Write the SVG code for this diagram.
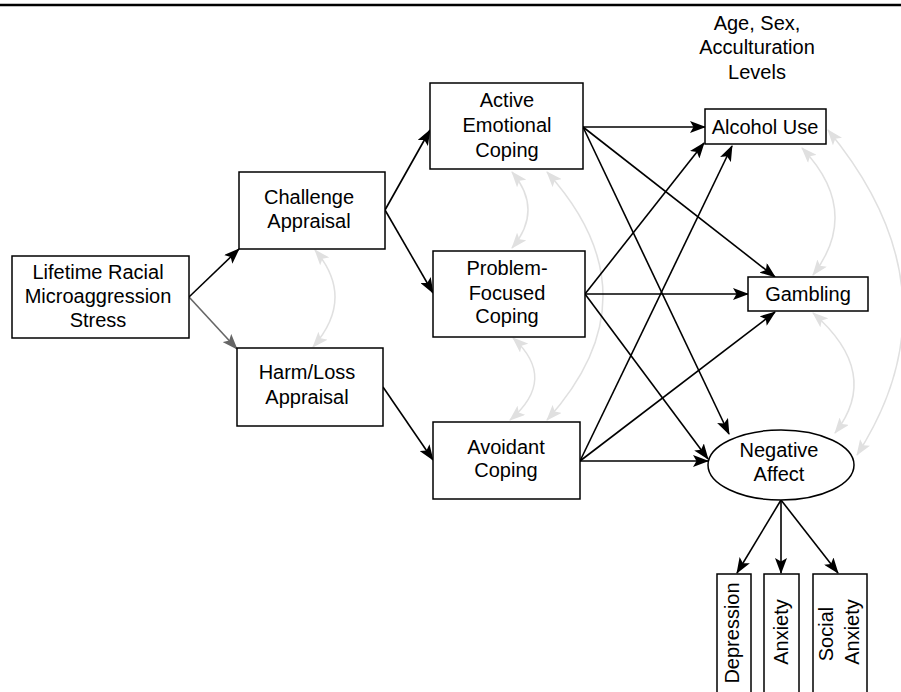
<svg xmlns="http://www.w3.org/2000/svg" width="901" height="692" viewBox="0 0 901 692">
  <style>
    .box { fill: #fff; stroke: #000; stroke-width: 1.5; }
    .lbl { font-family: "Liberation Sans", Arial, sans-serif; font-size: 20px; fill: #000; text-anchor: middle; }
    .path { fill: none; stroke: #000; stroke-width: 1.6; marker-end: url(#ah); }
    .path-grey { fill: none; stroke: #666; stroke-width: 1.6; marker-end: url(#ahg); }
    .cov { fill: none; stroke: #e0e0e0; stroke-width: 1.5; marker-start: url(#ahl); marker-end: url(#ahl); }
  </style>
  <defs>
    <marker id="ah" viewBox="0 0 16 12" refX="15" refY="6" markerWidth="16" markerHeight="12" markerUnits="userSpaceOnUse" orient="auto">
      <path d="M0,0 L16,6 L0,12 L3.5,6 z" fill="#000"/>
    </marker>
    <marker id="ahg" viewBox="0 0 16 12" refX="15" refY="6" markerWidth="16" markerHeight="12" markerUnits="userSpaceOnUse" orient="auto">
      <path d="M0,0 L16,6 L0,12 L3.5,6 z" fill="#666"/>
    </marker>
    <marker id="ahl" viewBox="0 0 16 12" refX="15" refY="6" markerWidth="16" markerHeight="12" markerUnits="userSpaceOnUse" orient="auto-start-reverse">
      <path d="M0,0 L16,6 L0,12 L3.5,6 z" fill="#e0e0e0"/>
    </marker>
  </defs>

  <rect width="901" height="692" fill="#fff"/>
  <line x1="0" y1="5" x2="901" y2="5" stroke="#000" stroke-width="2.4"/>

  <!-- covariances (bidirectional curves) -->
  <g id="covariances">
    <path class="cov" d="M315,250 Q356,298 313,347"/>
    <path class="cov" d="M512,172 Q544,210 512,248"/>
    <path class="cov" d="M513,338 Q558,379 510,420"/>
    <path class="cov" d="M547,172 Q659,296 547,420"/>
    <path class="cov" d="M802,148 Q862,211 813,275"/>
    <path class="cov" d="M813,313 Q882,373 835,433"/>
    <path class="cov" d="M828,130 Q962,292 857,455"/>
  </g>

  <!-- directed paths -->
  <g id="connectors">
    <path class="path" d="M189,297 L239,249"/>
    <path class="path-grey" d="M189,297 L237,349"/>
    <path class="path" d="M385,210 L430,130"/>
    <path class="path" d="M385,210 L433,293"/>
    <path class="path" d="M383,387 L433,460"/>
    <path class="path" d="M583,127 L705,127"/>
    <path class="path" d="M583,127 L775,277"/>
    <path class="path" d="M583,127 L729,434"/>
    <path class="path" d="M585,294 L704,143"/>
    <path class="path" d="M585,294 L748,294"/>
    <path class="path" d="M585,294 L708,459"/>
    <path class="path" d="M580,461 L732,146"/>
    <path class="path" d="M580,461 L775,312"/>
    <path class="path" d="M580,461 L708,461"/>
    <path class="path" d="M781,500 L737,573"/>
    <path class="path" d="M781,500 L781,573"/>
    <path class="path" d="M781,500 L838,573"/>
  </g>

  <g id="lifetime">
    <rect class="box" x="12" y="256" width="177" height="82"/>
    <text class="lbl" x="98" y="279">Lifetime Racial</text>
    <text class="lbl" x="98" y="303">Microaggression</text>
    <text class="lbl" x="98" y="327">Stress</text>
  </g>
  <g id="challenge">
    <rect class="box" x="239" y="172" width="146" height="77"/>
    <text class="lbl" x="309" y="204">Challenge</text>
    <text class="lbl" x="309" y="228">Appraisal</text>
  </g>
  <g id="harm">
    <rect class="box" x="237" y="348" width="146" height="78"/>
    <text class="lbl" x="307" y="379">Harm/Loss</text>
    <text class="lbl" x="307" y="404">Appraisal</text>
  </g>
  <g id="active">
    <rect class="box" x="430" y="83" width="153" height="86"/>
    <text class="lbl" x="507" y="107">Active</text>
    <text class="lbl" x="507" y="132">Emotional</text>
    <text class="lbl" x="507" y="157">Coping</text>
  </g>
  <g id="problem">
    <rect class="box" x="433" y="251" width="152" height="86"/>
    <text class="lbl" x="507" y="275">Problem-</text>
    <text class="lbl" x="507" y="300">Focused</text>
    <text class="lbl" x="507" y="323">Coping</text>
  </g>
  <g id="avoidant">
    <rect class="box" x="433" y="422" width="147" height="77"/>
    <text class="lbl" x="506" y="454">Avoidant</text>
    <text class="lbl" x="506" y="477">Coping</text>
  </g>
  <g id="covariates">
    <text class="lbl" x="757" y="30">Age, Sex,</text>
    <text class="lbl" x="757" y="54">Acculturation</text>
    <text class="lbl" x="757" y="79">Levels</text>
  </g>
  <g id="alcohol">
    <rect class="box" x="705" y="109" width="121" height="35"/>
    <text class="lbl" x="765" y="134">Alcohol Use</text>
  </g>
  <g id="gambling">
    <rect class="box" x="748" y="277" width="120" height="34"/>
    <text class="lbl" x="808" y="301">Gambling</text>
  </g>
  <g id="negative-affect">
    <ellipse cx="781" cy="465" rx="73" ry="35" fill="#fff" stroke="#000" stroke-width="1.5"/>
    <text class="lbl" x="779" y="457">Negative</text>
    <text class="lbl" x="779" y="481">Affect</text>
  </g>
  <g id="depression">
    <rect class="box" x="717" y="574" width="34" height="130"/>
    <text class="lbl" transform="translate(739,633) rotate(-90)">Depression</text>
  </g>
  <g id="anxiety">
    <rect class="box" x="764" y="574" width="35" height="130"/>
    <text class="lbl" transform="translate(788,632) rotate(-90)">Anxiety</text>
  </g>
  <g id="social-anxiety">
    <rect class="box" x="813" y="574" width="54" height="130"/>
    <text class="lbl" transform="translate(833,634) rotate(-90)">Social</text>
    <text class="lbl" transform="translate(859,632) rotate(-90)">Anxiety</text>
  </g>
</svg>
